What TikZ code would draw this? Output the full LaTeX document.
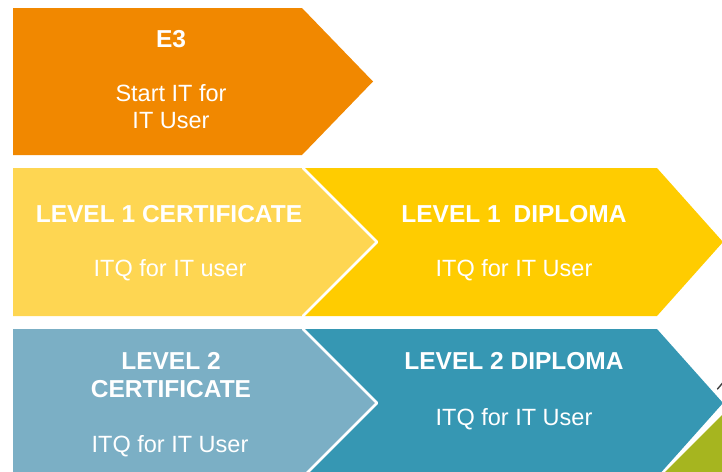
\documentclass[tikz,border=0pt]{standalone}
\usepackage{fontspec}
\setmainfont{Liberation Sans}
\usepackage{tikz}
\definecolor{eorange}{RGB}{241,136,0}
\definecolor{lightyellow}{RGB}{254,214,82}
\definecolor{darkyellow}{RGB}{255,204,0}
\definecolor{lightteal}{RGB}{123,175,197}
\definecolor{darkteal}{RGB}{54,151,179}
\definecolor{olivegreen}{RGB}{166,181,31}

\begin{document}
\begin{tikzpicture}[x=1pt, y=-1pt, line cap=round, line join=round,
  head/.style={text=white, anchor=base, align=center, inner sep=0pt,
    font={\bfseries\fontsize{24.5}{28}\selectfont}},
  sub/.style={text=white, anchor=base, align=center, inner sep=0pt,
    font={\fontsize{23.5}{27}\selectfont}},
  seam/.style={draw=white, line width=2.5pt}]

\useasboundingbox (0,0) rectangle (722,471);

\def\xleft{13}
\def\xshoulder{303}
\def\xnotch{377}
\def\xright{657}
\def\xtip{723}

% Drawing first row

  \fill[eorange] (\xleft,8) -- (302,8) -- (373,81.5) -- (302,155) -- (\xleft,155) -- cycle;

  \node[head] (e3) at (171,47) {E3};
  \node[sub] (e3text) at (171,128) {Start IT for\\IT User};

% Second row

  \fill[lightyellow] (\xleft,168) -- (\xshoulder,168) -- (\xnotch,242) -- (\xshoulder,316) -- (\xleft,316) -- cycle;
  \fill[darkyellow] (\xshoulder,168) -- (\xright,168) -- (\xtip,242) -- (\xright,316) -- (\xshoulder,316) -- (\xnotch,242) -- cycle;
  \draw[seam] (\xshoulder,168) -- (\xnotch,242) -- (\xshoulder,316);

  \node[head] (levelonecert) at (169,222) {LEVEL 1 CERTIFICATE};
  \node[sub] (levelonecerttext) at (170,276) {ITQ for IT user};

  \node[head] (levelonedipl) at (514,222) {LEVEL 1\hspace{6pt} DIPLOMA};
  \node[sub] (levelonedipltext) at (514,276) {ITQ for IT User};

% Third row

  \fill[olivegreen] (723,414) -- (664,473) -- (723,473) -- cycle;

  \fill[lightteal] (\xleft,329) -- (\xshoulder,329) -- (\xnotch,403) -- (\xshoulder,477) -- (\xleft,477) -- cycle;
  \fill[darkteal] (\xshoulder,329) -- (\xright,329) -- (\xtip,403) -- (\xright,477) -- (\xshoulder,477) -- (\xnotch,403) -- cycle;
  \draw[seam] (\xshoulder,329) -- (\xnotch,403) -- (\xshoulder,477);

  \coordinate (markstart) at (717.5,389);
  \coordinate (markend) at (723,382.5);
  \draw[black!75, line width=1.4pt] (markstart) -- (markend);

  \node[head] (leveltwocert) at (171,397) {LEVEL 2\\CERTIFICATE};
  \node[sub] (leveltwocerttext) at (170,452) {ITQ for IT User};

  \node[head] (leveltwodipl) at (514,369) {LEVEL 2 DIPLOMA};
  \node[sub] (leveltwodipltext) at (514,425) {ITQ for IT User};

\end{tikzpicture}
\end{document}
